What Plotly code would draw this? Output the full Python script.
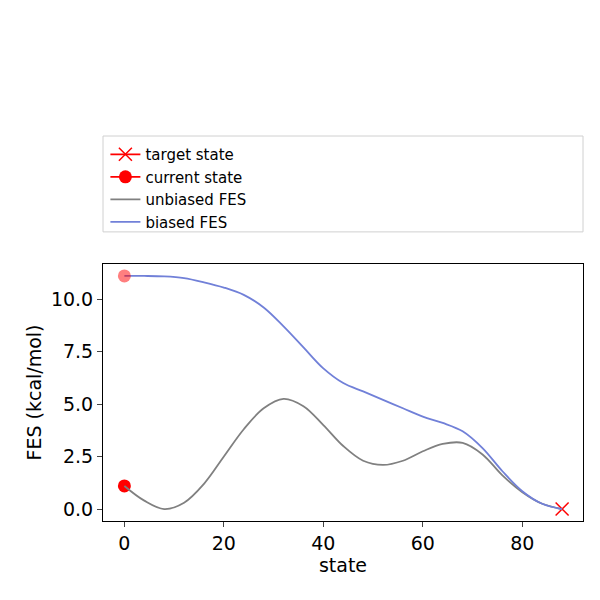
import plotly.graph_objects as go

state = [0, 4, 8, 12, 16, 20, 24, 28, 32, 36, 40, 44, 48, 52, 56, 60, 64, 68, 72, 76, 80, 84, 88]
unbiased = [1.1, 0.4, 0.0, 0.3, 1.2, 2.5, 3.8, 4.8, 5.25, 4.9, 4.0, 3.0, 2.3, 2.1, 2.3, 2.75,
            3.1, 3.15, 2.6, 1.6, 0.8, 0.25, 0.0]
biased = [11.1, 11.1, 11.08, 11.0, 10.8, 10.55, 10.2, 9.6, 8.7, 7.7, 6.7, 6.0, 5.6, 5.2, 4.8,
          4.4, 4.1, 3.7, 2.9, 1.8, 0.85, 0.25, 0.0]
target = (88, 0.0)
current = (0, 1.1)
current_biased = (0, 11.1)

fig = go.Figure()
fig.add_trace(go.Scatter(x=[target[0]], y=[target[1]], mode="lines+markers", name="target state",
                         line=dict(color="red", width=1.8),
                         marker=dict(symbol="x-thin", size=13, color="red", line=dict(width=1.5, color="red"))))
fig.add_trace(go.Scatter(x=[current[0]], y=[current[1]], mode="lines+markers", name="current state",
                         line=dict(color="red", width=1.8), marker=dict(size=13, color="red")))
fig.add_trace(go.Scatter(x=state, y=unbiased, mode="lines", name="unbiased FES",
                         line=dict(color="#808080", width=1.8, shape="spline")))
fig.add_trace(go.Scatter(x=state, y=biased, mode="lines", name="biased FES",
                         line=dict(color="#7180d8", width=1.8, shape="spline")))
fig.add_trace(go.Scatter(x=[current_biased[0]], y=[current_biased[1]], mode="markers",
                         showlegend=False, marker=dict(size=13, color="rgba(255,0,0,0.5)")))

axis = dict(showgrid=False, zeroline=False, showline=True, mirror=True, linecolor="black",
            ticks="outside", ticklen=5, tickfont=dict(size=19), title_font=dict(size=19),
            automargin=False)
fig.update_layout(
    width=600, height=600, plot_bgcolor="white", paper_bgcolor="white",
    font=dict(family="DejaVu Sans", color="black"),
    margin=dict(l=95, r=25, t=256, b=87, autoexpand=False),
    xaxis=dict(axis, range=[-4.3, 92.2], tickvals=[0, 20, 40, 60, 80],
               title=dict(text="state", standoff=4)),
    yaxis=dict(axis, range=[-0.57, 11.67], tickvals=[0, 2.5, 5, 7.5, 10],
               ticktext=["0.0", "2.5", "5.0", "7.5", "10.0"],
               title=dict(text="FES (kcal/mol)", standoff=4)),
    legend=dict(x=0.005, y=1.49, xanchor="left", yanchor="top", font=dict(size=15),
                bgcolor="rgba(0,0,0,0)", tracegroupgap=0),
    shapes=[dict(type="rect", xref="paper", yref="paper", x0=0, x1=1, y0=1.125, y1=1.498,
                 line=dict(color="#d0d0d0", width=1))],
)
fig.write_html("out.html")
